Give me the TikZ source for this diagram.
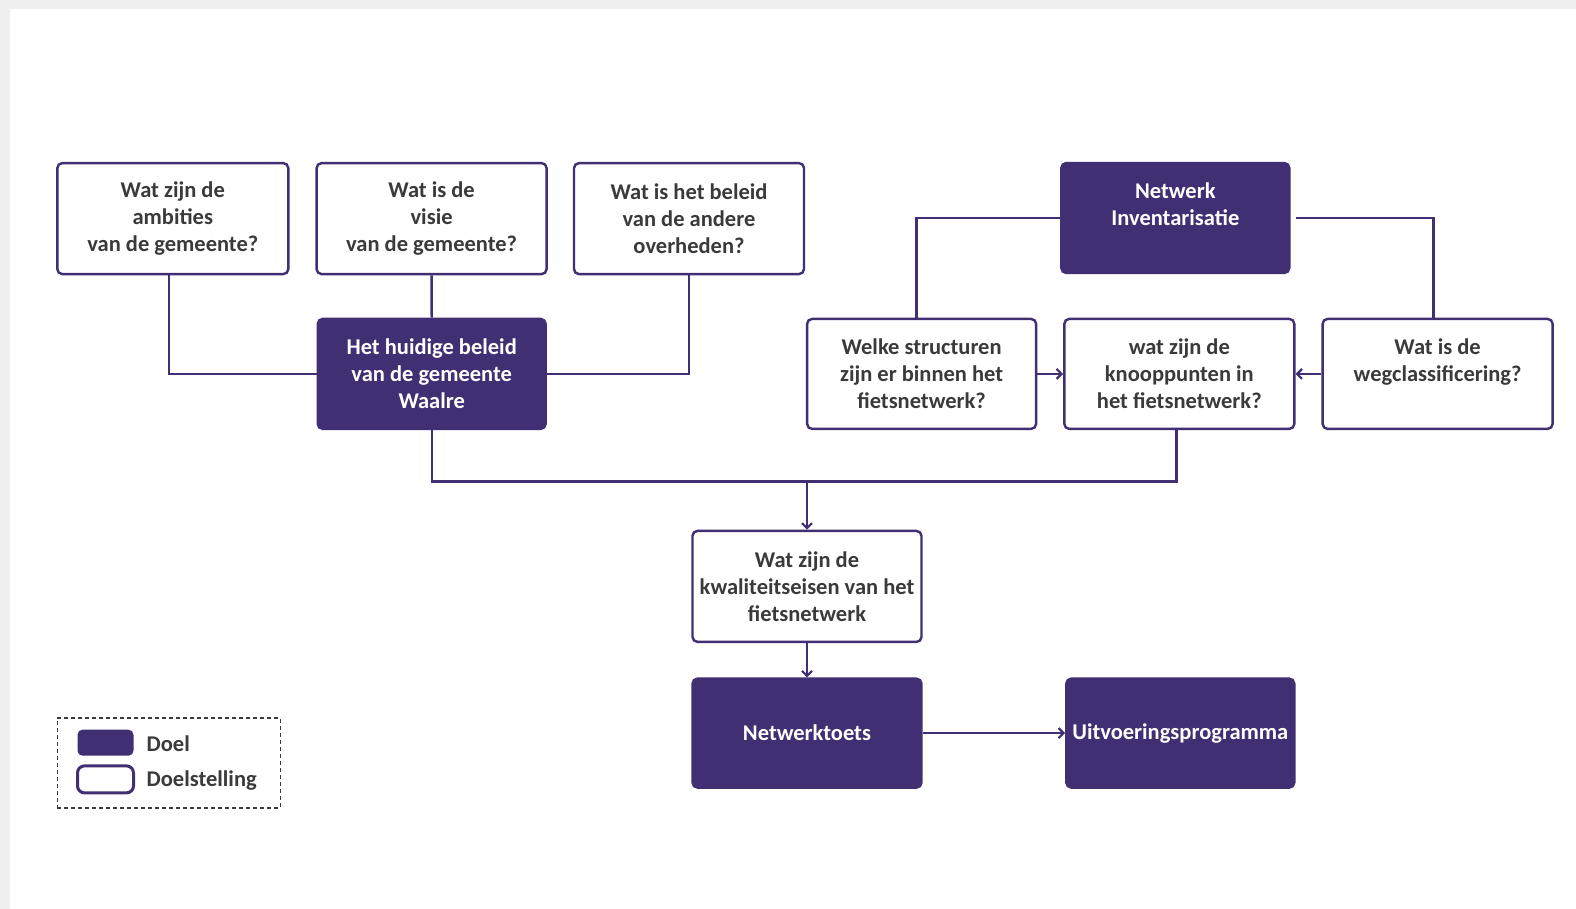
\documentclass[tikz,border=0pt]{standalone}
\usepackage{fontspec}
\setmainfont{Carlito}
\usetikzlibrary{arrows.meta,calc}
\definecolor{purp}{RGB}{65,47,115}
\definecolor{txt}{RGB}{58,58,58}
\definecolor{bggray}{RGB}{240,240,240}
\tikzset{
  base/.style={rectangle, rounded corners=5pt, line width=2.4pt, draw=purp, align=center,
    font=\bfseries\fontsize{22.5}{27}\selectfont, inner sep=0pt},
  doelstelling/.style={base, fill=white, text=txt},
  doel/.style={base, fill=purp, text=white},
  conn/.style={draw=purp, line width=2.4pt},
  arr/.style={conn, -{Straight Barb[length=5pt,width=10pt,line width=2.2pt]}},
}
\begin{document}
\begin{tikzpicture}[x=1pt,y=-1pt]
\useasboundingbox (0,0) rectangle (1576,909);
\fill[bggray] (0,0) rectangle (1576,909);
\fill[white] (10,9) rectangle (1576,909);

% top-left row
\node[doelstelling, minimum width=231pt, minimum height=111pt] (amb) at (172.8,218.6) {Wat zijn de\\ambities\\van de gemeente?};
\node[doelstelling, minimum width=230pt, minimum height=111pt] (vis) at (431.6,218.6) {Wat is de\\visie\\van de gemeente?};
\node[doelstelling, minimum width=230pt, minimum height=111pt] (ovh) at (689,218.6) {Wat is het beleid\\van de andere\\overheden?};
\node[doel, minimum width=228pt, minimum height=110pt] (bel) at (431.7,373.9) {Het huidige beleid\\van de gemeente\\Waalre};

% right part
\node[doel, minimum width=228pt, minimum height=110pt] (inv) at (1175.3,218) {Netwerk\\Inventarisatie\\\mbox{}};
\node[doelstelling, minimum width=229pt, minimum height=110pt] (str) at (921.6,373.9) {Welke structuren\\zijn er binnen het\\fietsnetwerk?};
\node[doelstelling, minimum width=230pt, minimum height=110pt] (kno) at (1179.3,373.9) {wat zijn de\\knooppunten in\\het fietsnetwerk?};
\node[doelstelling, minimum width=230pt, minimum height=110pt] (weg) at (1437.6,373.9) {Wat is de\\wegclassificering?\\\mbox{}};

% bottom
\node[doelstelling, minimum width=229pt, minimum height=111pt] (kwa) at (807,586.4) {Wat zijn de\\kwaliteitseisen van het\\fietsnetwerk};
\node[doel, minimum width=229pt, minimum height=109pt] (toets) at (807,733.1) {Netwerktoets};
\node[doel, minimum width=228pt, minimum height=109pt] (uitv) at (1180.3,733.1) {Uitvoeringsprogramma};

% connectors
\draw[conn] ([xshift=-4pt]amb.south) |- (bel.west);
\draw[conn] (vis.south) -- (bel.north);
\draw[conn] (ovh.south) |- (bel.east);
\coordinate (jn) at (807,481.4);
\draw[conn] (bel.south) |- (jn) -| ([xshift=-3pt]kno.south);
\draw[arr] (jn) -- (kwa.north);
\draw[conn] (inv.west) -| ([xshift=-5pt]str.north);
\draw[conn] ([xshift=5pt]inv.east) -| ([xshift=-4pt]weg.north);
\draw[arr] (str.east) -- (kno.west);
\draw[arr] (weg.west) -- (kno.east);
\draw[arr] (kwa.south) -- (toets.north);
\draw[arr] (toets.east) -- (uitv.west);

% legend
\node[draw=txt, dashed, dash pattern=on 4pt off 3pt, line width=1.6pt, minimum width=223pt, minimum height=90pt, inner sep=0pt] (leg) at (168.9,762.8) {};
\node[rectangle, rounded corners=5pt, fill=purp, minimum width=56pt, minimum height=26pt, inner sep=0pt] (lk1) at (105.5,742.7) {};
\node[rectangle, rounded corners=7pt, draw=purp, line width=3pt, fill=white, minimum width=56pt, minimum height=27pt, inner sep=0pt] (lk2) at (105.5,779.4) {};
\node[anchor=west, text=txt, font=\bfseries\fontsize{22.5}{27}\selectfont, inner sep=0pt] (lt1) at (146.5,743.5) {Doel};
\node[anchor=west, text=txt, font=\bfseries\fontsize{22.5}{27}\selectfont, inner sep=0pt] (lt2) at (146.5,781) {Doelstelling};
\end{tikzpicture}
\end{document}
